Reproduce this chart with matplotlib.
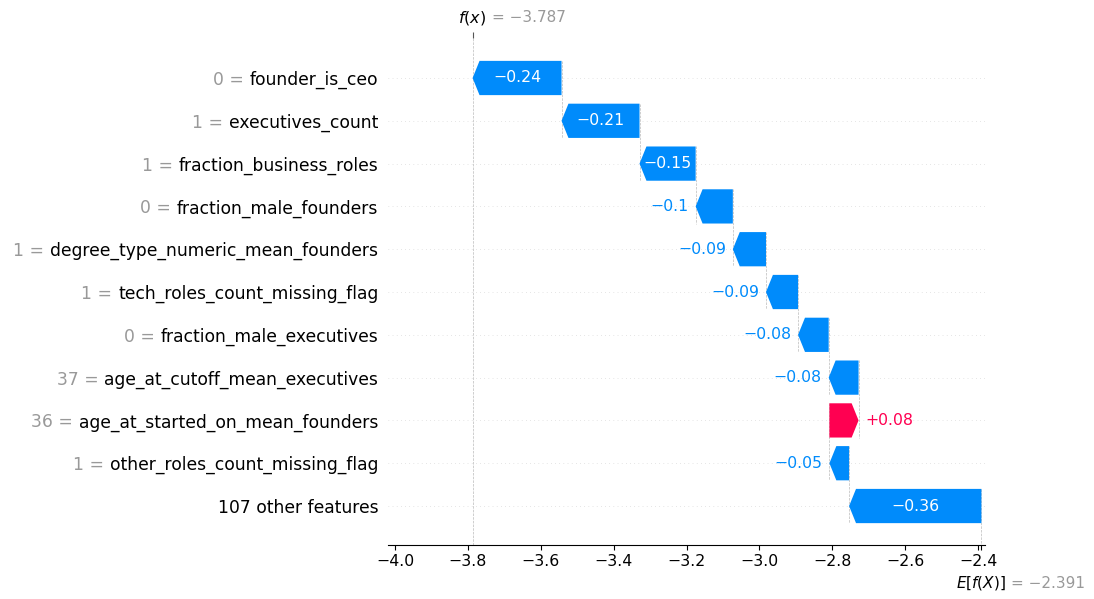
import numpy as np
import matplotlib
matplotlib.use('Agg')
import matplotlib.pyplot as plt
import matplotlib.transforms as mtransforms
from matplotlib.patches import FancyArrow

# feature contributions, top row first
feature_values = ['0', '1', '1', '0', '1', '1', '0', '37', '36', '1', None]
feature_names = ['founder_is_ceo', 'executives_count', 'fraction_business_roles',
                 'fraction_male_founders', 'degree_type_numeric_mean_founders',
                 'tech_roles_count_missing_flag', 'fraction_male_executives',
                 'age_at_cutoff_mean_executives', 'age_at_started_on_mean_founders',
                 'other_roles_count_missing_flag', '107 other features']
shap_values = [-0.244, -0.214, -0.154, -0.102, -0.091, -0.088, -0.084,
               -0.082, 0.080, -0.054, -0.363]
base_value = -2.391
fx = base_value + sum(shap_values)

xtick_vals = [-4.0, -3.8, -3.6, -3.4, -3.2, -3.0, -2.8, -2.6, -2.4]

blue = '#008bfb'
red = '#ff0051'
gray = '#999999'


def fmt(v, f):
    s = f % v
    if '.' in s:
        s = s.rstrip('0').rstrip('.')
    return s.replace('-', '\u2212')


n = len(shap_values)
ys = np.arange(n)[::-1]  # top feature at y = n-1

fig = plt.figure(figsize=(10.94, 5.99), dpi=100)
ax = fig.add_axes([0.3547, 0.0902, 0.5457, 0.8464])
ax.set_xlim(-4.019, -2.381)
ax.set_ylim(-0.91, n - 1 + 0.935)

# bar start positions (the base side of each arrow)
starts = [base_value + sum(shap_values[i + 1:]) for i in range(n)]
head_len = 0.019
bar_w = 0.8

for y in ys:
    ax.axhline(y, color='#cccccc', lw=0.5, dashes=(1, 5), zorder=-1)

ax.axvline(fx, color='#bbbbbb', ls='--', lw=0.5, zorder=-1)

arrows = []
for i in range(n):
    v = shap_values[i]
    c = red if v > 0 else blue
    hl = min(head_len, abs(v))
    arr = FancyArrow(starts[i], ys[i], v, 0, width=bar_w, head_width=bar_w,
                     head_length=hl, length_includes_head=True,
                     color=c, lw=0, zorder=2)
    ax.add_patch(arr)
    arrows.append(arr)
    # connector down to the bar below
    ax.plot([starts[i], starts[i]], [ys[i] + 0.4, ys[i] - 1.4],
            color='#bbbbbb', ls='--', lw=0.5, zorder=-1)

# y labels: feature names as ticks, feature values in gray to their left
ax.set_yticks(ys, feature_names)
ax.tick_params(axis='y', length=0, pad=7, labelsize=12.3, labelcolor='black')

ax.set_xticks(xtick_vals)
ax.tick_params(axis='x', labelsize=11.3, length=3.5, width=0.8, pad=3)
for s in ['top', 'left', 'right']:
    ax.spines[s].set_visible(False)

fig.canvas.draw()
renderer = fig.canvas.get_renderer()

for i in range(n):
    v = shap_values[i]
    c = red if v > 0 else blue
    label = fmt(v, '%+0.02f')
    txt = ax.text(starts[i] + v / 2, ys[i], label, ha='center', va='center',
                  color='white', fontsize=11.3, zorder=3)
    tw = txt.get_window_extent(renderer).width
    aw = arrows[i].get_window_extent(renderer).width
    if tw > aw - 4:
        txt.remove()
        end = starts[i] + v
        ax.annotate(label, xy=(end, ys[i]), xytext=(5 if v > 0 else -5, 0),
                    textcoords='offset points', ha='left' if v > 0 else 'right',
                    va='center', color=c, fontsize=11.3)

ytrans = mtransforms.blended_transform_factory(ax.transAxes, ax.transData)
for tl, fv, y in zip(ax.yaxis.get_majorticklabels(), feature_values, ys):
    if fv is None:
        continue
    x0 = tl.get_window_extent(renderer).x0
    xa = ax.transAxes.inverted().transform((x0, 0))[0]
    ax.annotate(fv + ' =', xy=(xa, y), xycoords=ytrans, xytext=(-4.2, 0),
                textcoords='offset points', ha='right', va='center_baseline',
                fontsize=12.3, color=gray, annotation_clip=False)

# base value tick at the bottom and model output tick at the top
ax2 = ax.twiny()
ax2.set_xlim(ax.get_xlim())
ax2.xaxis.set_ticks_position('bottom')
ax2.set_xticks([base_value], [''])
ax2.tick_params(axis='x', length=3.5, width=0.8)
ax3 = ax.twiny()
ax3.set_xlim(ax.get_xlim())
ax3.set_xticks([fx], [''])
ax3.tick_params(axis='x', length=4, width=0.8, color='#555555')
for a in (ax2, ax3):
    for s in a.spines.values():
        s.set_visible(False)

t1 = ax.annotate('$f(x)$', xy=(fx, 1), xycoords=('data', 'axes fraction'),
                 xytext=(0, 14.5), textcoords='offset points',
                 ha='center', va='center', fontsize=11.5)
ax.annotate('= ' + fmt(fx, '%0.03f'), xy=(1, 0.5), xycoords=t1,
            xytext=(3.6, 0), textcoords='offset points',
            ha='left', va='center', fontsize=11, color=gray)
t2 = ax.annotate('$E[f(X)]$', xy=(base_value, 0), xycoords=('data', 'axes fraction'),
                 xytext=(0, -27.5), textcoords='offset points',
                 ha='center', va='center', fontsize=11)
ax.annotate('= ' + fmt(base_value, '%0.03f'), xy=(1, 0.5), xycoords=t2,
            xytext=(3.6, 0), textcoords='offset points',
            ha='left', va='center', fontsize=11, color=gray)

fig.savefig('out.png', dpi=100)
